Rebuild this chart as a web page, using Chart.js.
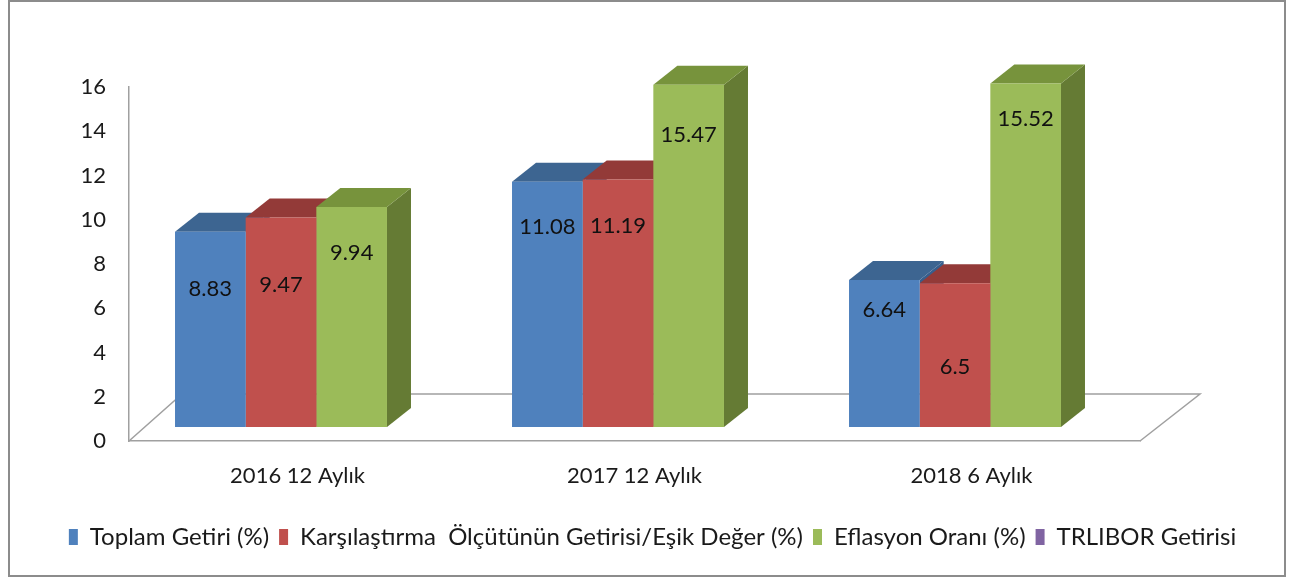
<!DOCTYPE html>
<html><head><meta charset="utf-8">
<script src="https://cdn.jsdelivr.net/npm/chart.js@4.4.1/dist/chart.umd.min.js"></script>
<style>html,body{margin:0;padding:0;background:#fff;overflow:hidden}</style>
</head><body>
<canvas id="c" width="1305" height="578" style="display:block;width:1305px;height:578px"></canvas>
<script>
// ---- data ----
const categories = ['2016 12 Aylık', '2017 12 Aylık', '2018 6 Aylık'];
const seriesNames = ['Toplam Getiri (%)', 'Karşılaştırma  Ölçütünün Getirisi/Eşik Değer (%)', 'Eflasyon Oranı (%)', 'TRLIBOR Getirisi'];
const toplamGetiri = [8.83, 11.08, 6.64];
const karsilastirma = [9.47, 11.19, 6.5];
const enflasyon = [9.94, 15.47, 15.52];
const trlibor = [null, null, null];
const yTickLabels = ['0', '2', '4', '6', '8', '10', '12', '14', '16'];

// ---- styles ----
const faces = [
  {front: '#4F81BD', top: '#3D6591', side: '#375E8C'},
  {front: '#C0504D', top: '#933A38', side: '#8A3634'},
  {front: '#9BBB59', top: '#77933C', side: '#657B34'},
  {front: '#8064A2', top: '#604A7B', side: '#574370'}
];
const FONT = 'Lato, "Open Sans", sans-serif';

const threeD = {
  id: 'threeD',
  beforeDraw(chart, args, o) {
    const ctx = chart.ctx;
    ctx.save();
    ctx.fillStyle = '#fff';
    ctx.fillRect(0, 0, chart.width, chart.height);
    ctx.restore();
  },
  beforeDatasetsDraw(chart, args, o) {
    const ctx = chart.ctx, a = chart.chartArea;
    // floor outline (behind the bars)
    ctx.save();
    ctx.strokeStyle = o.lineColor; ctx.lineWidth = o.lineWidth;
    ctx.beginPath();
    ctx.moveTo(a.left, a.bottom);
    ctx.lineTo(a.left + o.floor.left, a.bottom - o.floor.up);
    ctx.lineTo(a.right + o.floor.right, a.bottom - o.floor.up);
    ctx.lineTo(a.right, a.bottom);
    ctx.stroke();
    ctx.restore();
    // bars sit behind the front plane
    ctx.save();
    ctx.translate(o.shift.x, o.shift.y);
    const n = chart.data.labels.length;
    for (let i = 0; i < n; i++) {
      chart.data.datasets.forEach((ds, d) => {
        const v = ds.data[i];
        if (v === null || v === undefined) return;
        const el = chart.getDatasetMeta(d).data[i];
        const x1 = el.x - el.width / 2, x2 = el.x + el.width / 2;
        const t = el.y, b = el.base, dx = o.depth.dx, dy = o.depth.dy;
        ctx.fillStyle = faces[d].side;
        ctx.beginPath();
        ctx.moveTo(x2, t); ctx.lineTo(x2 + dx, t - dy); ctx.lineTo(x2 + dx, b - dy); ctx.lineTo(x2, b);
        ctx.closePath(); ctx.fill();
        ctx.fillStyle = faces[d].top;
        ctx.beginPath();
        ctx.moveTo(x1, t); ctx.lineTo(x1 + dx, t - dy); ctx.lineTo(x2 + dx, t - dy); ctx.lineTo(x2, t);
        ctx.closePath(); ctx.fill();
      });
    }
  },
  afterDatasetsDraw(chart, args, o) {
    const ctx = chart.ctx, y = chart.scales.y;
    ctx.font = '22px ' + FONT;
    ctx.fillStyle = '#111';
    ctx.textAlign = 'center';
    ctx.textBaseline = 'middle';
    chart.data.datasets.forEach((ds, d) => {
      ds.data.forEach((v, i) => {
        if (v === null || v === undefined) return;
        const el = chart.getDatasetMeta(d).data[i];
        const at = o.labelAt[d][i];
        ctx.fillText(String(v), el.x, y.getPixelForValue(at));
      });
    });
    ctx.restore(); // undo translation
  },
  afterDraw(chart, args, o) {
    const ctx = chart.ctx;
    ctx.save();
    ctx.strokeStyle = '#8C8C8C'; ctx.lineWidth = 2;
    ctx.strokeRect(9, 1, 1276, 575);
    ctx.restore();
  }
};

const seriesValues = [toplamGetiri, karsilastirma, enflasyon, trlibor];

new Chart(document.getElementById('c'), {
  type: 'bar',
  data: {
    labels: categories,
    datasets: seriesValues.map((vals, d) => ({
      label: seriesNames[d],
      data: vals,
      backgroundColor: faces[d].front,
      borderWidth: 0,
      skipNull: true,
      clip: false,
      barPercentage: 1.0,
      categoryPercentage: 0.629
    }))
  },
  plugins: [threeD],
  options: {
    responsive: false,
    animation: false,
    devicePixelRatio: 1,
    layout: {padding: {left: 0, right: 0, top: 87, bottom: 19}},
    scales: {
      x: {
        offset: true,
        grid: {display: false, drawTicks: false},
        border: {display: true, color: '#A0A0A0', width: 1.5},
        ticks: {font: {family: FONT, size: 22}, color: '#1a1a1a', padding: 22, maxRotation: 0},
        afterFit(s) { s.height = 74; }
      },
      y: {
        min: 0, max: 16,
        grid: {display: false, drawTicks: false},
        border: {display: true, color: '#A0A0A0', width: 1.5},
        ticks: {stepSize: 2, font: {family: FONT, size: 22}, color: '#1a1a1a', padding: 23,
          callback: (v, i) => yTickLabels[i]},
        afterFit(s) { s.width = 129; }
      },
      yRight: {
        position: 'right',
        grid: {display: false, drawTicks: false},
        border: {display: false},
        ticks: {display: false},
        afterFit(s) { s.width = 165; }
      }
    },
    plugins: {
      legend: {
        position: 'bottom',
        labels: {font: {family: FONT, size: 24}, color: '#1a1a1a', boxWidth: 9, boxHeight: 16, padding: 10}
      },
      tooltip: {enabled: false},
      threeD: {
        depth: {dx: 24, dy: 19},
        shift: {x: -16.5, y: -14},
        floor: {left: 53, right: 60, up: 47},
        lineColor: '#A0A0A0', lineWidth: 1.5,
        labelAt: [[6.24, 9.04, 5.29], [6.42, 9.08, 2.71], [7.86, 13.2, 13.92], [null, null, null]]
      }
    }
  }
});
</script>
</body></html>
